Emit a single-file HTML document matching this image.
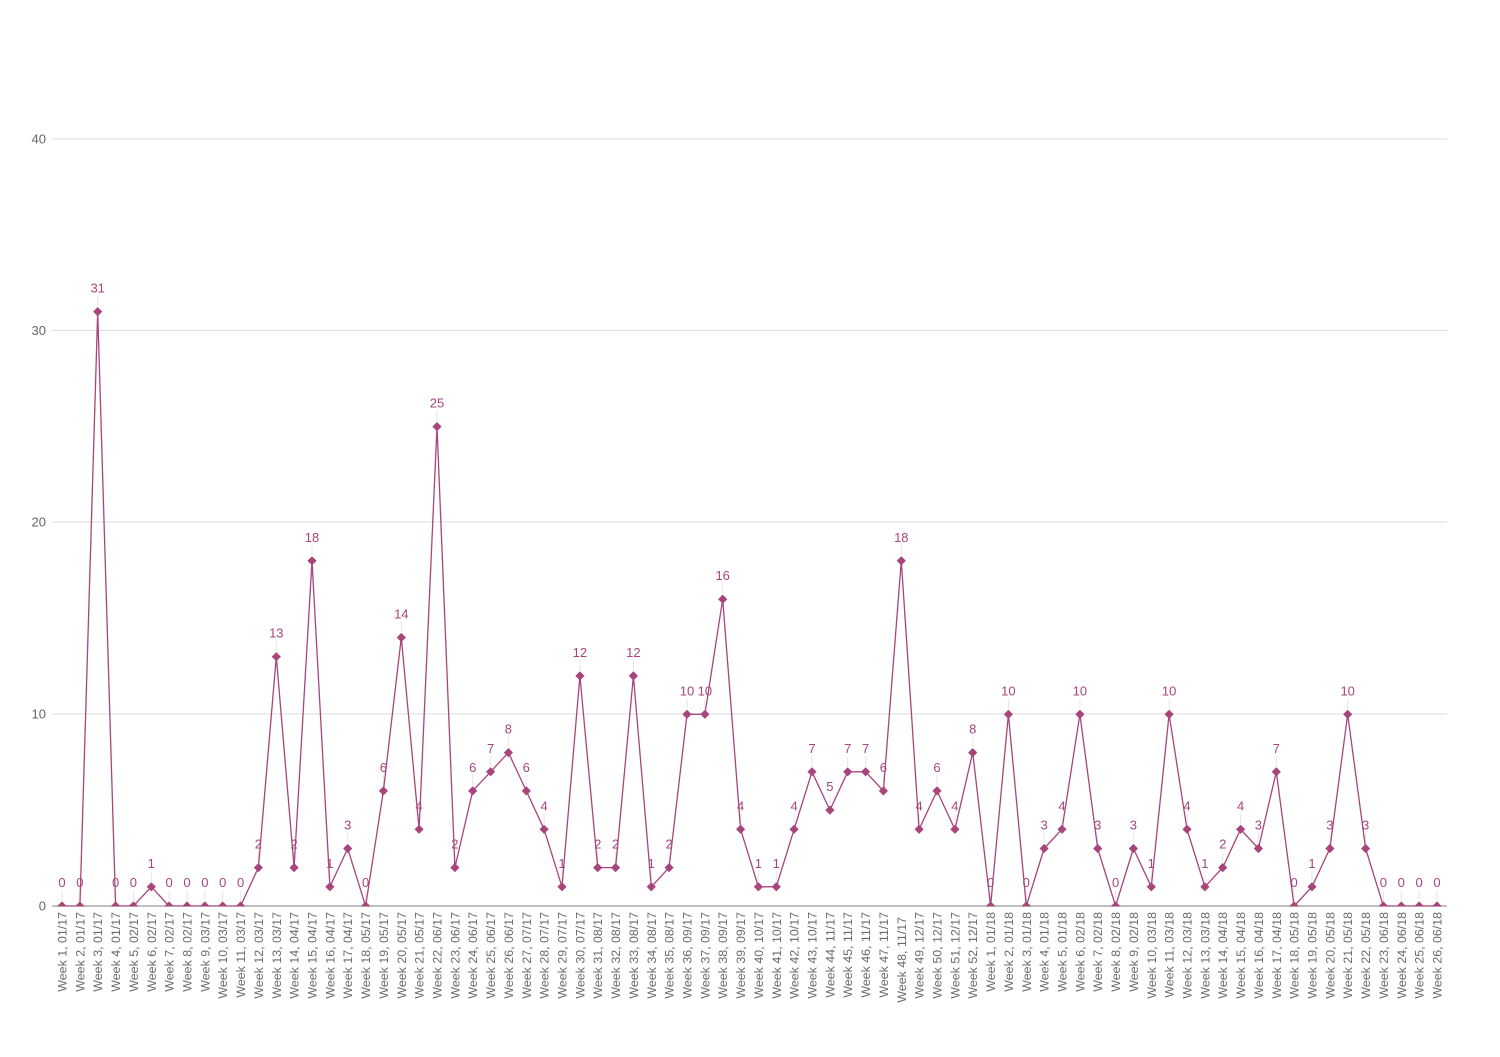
<!DOCTYPE html>
<html><head><meta charset="utf-8"><style>
html,body{margin:0;padding:0;background:#fff;}
svg{display:block;}
.yl{font-family:"Liberation Sans",sans-serif;font-size:13px;fill:#666;text-anchor:end;}
.xl{font-family:"Liberation Sans",sans-serif;font-size:12.4px;fill:#6a6a6a;text-anchor:end;}
.dl{font-family:"Liberation Sans",sans-serif;font-size:13px;fill:#a8457c;text-anchor:middle;}
.ld{stroke:#e6e6e6;stroke-width:1;}
</style></head><body>
<svg width="1500" height="1057" viewBox="0 0 1500 1057" xmlns="http://www.w3.org/2000/svg">
<defs>
<marker id="dm" markerUnits="userSpaceOnUse" markerWidth="12" markerHeight="12" refX="6" refY="6" orient="0" overflow="visible">
<path d="M6 1.4 L10.6 6 L6 10.6 L1.4 6 Z" fill="#a8457c"/>
</marker>
<clipPath id="cp"><rect x="40" y="100" width="1420" height="806.5"/></clipPath>
</defs>
<g stroke="#dcdcdc" stroke-width="1">
<line x1="52" y1="139" x2="1447" y2="139"/>
<line x1="52" y1="330.5" x2="1447" y2="330.5"/>
<line x1="52" y1="522" x2="1447" y2="522"/>
<line x1="52" y1="714" x2="1447" y2="714"/>
</g>
<line x1="52" y1="906" x2="1447" y2="906" stroke="#9a9a9a" stroke-width="1.3"/>
<text class="yl" x="46" y="143.5">40</text>
<text class="yl" x="46" y="335">30</text>
<text class="yl" x="46" y="526.5">20</text>
<text class="yl" x="46" y="718.5">10</text>
<text class="yl" x="46" y="910.5">0</text>

<g class="ld">
<line x1="62" y1="891" x2="62" y2="901"/><line x1="79.9" y1="891" x2="79.9" y2="901"/><line x1="97.7" y1="296" x2="97.7" y2="306"/><line x1="115.6" y1="891" x2="115.6" y2="901"/><line x1="133.4" y1="891" x2="133.4" y2="901"/><line x1="151.3" y1="872" x2="151.3" y2="882"/><line x1="169.1" y1="891" x2="169.1" y2="901"/><line x1="187" y1="891" x2="187" y2="901"/><line x1="204.9" y1="891" x2="204.9" y2="901"/><line x1="222.7" y1="891" x2="222.7" y2="901"/><line x1="240.6" y1="891" x2="240.6" y2="901"/><line x1="258.4" y1="852" x2="258.4" y2="862"/><line x1="276.3" y1="641" x2="276.3" y2="651"/><line x1="294.1" y1="852" x2="294.1" y2="862"/><line x1="312" y1="545" x2="312" y2="555"/><line x1="329.9" y1="871" x2="329.9" y2="881"/><line x1="347.7" y1="833" x2="347.7" y2="843"/><line x1="365.6" y1="891" x2="365.6" y2="901"/><line x1="383.4" y1="775" x2="383.4" y2="785"/><line x1="401.3" y1="622" x2="401.3" y2="632"/><line x1="419.1" y1="814" x2="419.1" y2="824"/><line x1="437" y1="411" x2="437" y2="421"/><line x1="454.9" y1="852" x2="454.9" y2="862"/><line x1="472.7" y1="775" x2="472.7" y2="785"/><line x1="490.6" y1="756" x2="490.6" y2="766"/><line x1="508.4" y1="737" x2="508.4" y2="747"/><line x1="526.3" y1="775" x2="526.3" y2="785"/><line x1="544.1" y1="814" x2="544.1" y2="824"/><line x1="562" y1="871" x2="562" y2="881"/><line x1="579.9" y1="660" x2="579.9" y2="670"/><line x1="597.7" y1="852" x2="597.7" y2="862"/><line x1="615.6" y1="852" x2="615.6" y2="862"/><line x1="633.4" y1="660" x2="633.4" y2="670"/><line x1="651.3" y1="871" x2="651.3" y2="881"/><line x1="669.1" y1="852" x2="669.1" y2="862"/><line x1="687" y1="699" x2="687" y2="709"/><line x1="704.9" y1="699" x2="704.9" y2="709"/><line x1="722.7" y1="584" x2="722.7" y2="594"/><line x1="740.6" y1="814" x2="740.6" y2="824"/><line x1="758.4" y1="871" x2="758.4" y2="881"/><line x1="776.3" y1="871" x2="776.3" y2="881"/><line x1="794.1" y1="814" x2="794.1" y2="824"/><line x1="812" y1="756" x2="812" y2="766"/><line x1="829.9" y1="794" x2="829.9" y2="804"/><line x1="847.7" y1="756" x2="847.7" y2="766"/><line x1="865.6" y1="756" x2="865.6" y2="766"/><line x1="883.4" y1="775" x2="883.4" y2="785"/><line x1="901.3" y1="545" x2="901.3" y2="555"/><line x1="919.1" y1="814" x2="919.1" y2="824"/><line x1="937" y1="775" x2="937" y2="785"/><line x1="954.9" y1="814" x2="954.9" y2="824"/><line x1="972.7" y1="737" x2="972.7" y2="747"/><line x1="990.6" y1="891" x2="990.6" y2="901"/><line x1="1008.4" y1="699" x2="1008.4" y2="709"/><line x1="1026.3" y1="891" x2="1026.3" y2="901"/><line x1="1044.1" y1="833" x2="1044.1" y2="843"/><line x1="1062" y1="814" x2="1062" y2="824"/><line x1="1079.9" y1="699" x2="1079.9" y2="709"/><line x1="1097.7" y1="833" x2="1097.7" y2="843"/><line x1="1115.6" y1="891" x2="1115.6" y2="901"/><line x1="1133.4" y1="833" x2="1133.4" y2="843"/><line x1="1151.3" y1="871" x2="1151.3" y2="881"/><line x1="1169.1" y1="699" x2="1169.1" y2="709"/><line x1="1187" y1="814" x2="1187" y2="824"/><line x1="1204.9" y1="871" x2="1204.9" y2="881"/><line x1="1222.7" y1="852" x2="1222.7" y2="862"/><line x1="1240.6" y1="814" x2="1240.6" y2="824"/><line x1="1258.4" y1="833" x2="1258.4" y2="843"/><line x1="1276.3" y1="756" x2="1276.3" y2="766"/><line x1="1294.1" y1="891" x2="1294.1" y2="901"/><line x1="1312" y1="871" x2="1312" y2="881"/><line x1="1329.9" y1="833" x2="1329.9" y2="843"/><line x1="1347.7" y1="699" x2="1347.7" y2="709"/><line x1="1365.6" y1="833" x2="1365.6" y2="843"/><line x1="1383.4" y1="891" x2="1383.4" y2="901"/><line x1="1401.3" y1="891" x2="1401.3" y2="901"/><line x1="1419.1" y1="891" x2="1419.1" y2="901"/><line x1="1437" y1="891" x2="1437" y2="901"/>
</g>

<g clip-path="url(#cp)">
<polyline fill="none" stroke="#a8457c" stroke-width="1.3" stroke-linejoin="round" marker-start="url(#dm)" marker-mid="url(#dm)" marker-end="url(#dm)" points="62,906 79.9,906 97.7,311.6 115.6,906 133.4,906 151.3,886.8 169.1,906 187,906 204.9,906 222.7,906 240.6,906 258.4,867.6 276.3,656.7 294.1,867.6 312,560.8 329.9,886.8 347.7,848.5 365.6,906 383.4,790.9 401.3,637.5 419.1,829.3 437,426.6 454.9,867.6 472.7,790.9 490.6,771.8 508.4,752.6 526.3,790.9 544.1,829.3 562,886.8 579.9,675.9 597.7,867.6 615.6,867.6 633.4,675.9 651.3,886.8 669.1,867.6 687,714.3 704.9,714.3 722.7,599.2 740.6,829.3 758.4,886.8 776.3,886.8 794.1,829.3 812,771.8 829.9,810.1 847.7,771.8 865.6,771.8 883.4,790.9 901.3,560.8 919.1,829.3 937,790.9 954.9,829.3 972.7,752.6 990.6,906 1008.4,714.3 1026.3,906 1044.1,848.5 1062,829.3 1079.9,714.3 1097.7,848.5 1115.6,906 1133.4,848.5 1151.3,886.8 1169.1,714.3 1187,829.3 1204.9,886.8 1222.7,867.6 1240.6,829.3 1258.4,848.5 1276.3,771.8 1294.1,906 1312,886.8 1329.9,848.5 1347.7,714.3 1365.6,848.5 1383.4,906 1401.3,906 1419.1,906 1437,906"/>
</g>

<g class="dl">
<text x="62" y="887">0</text><text x="79.9" y="887">0</text><text x="97.7" y="292.6">31</text><text x="115.6" y="887">0</text><text x="133.4" y="887">0</text><text x="151.3" y="867.8">1</text><text x="169.1" y="887">0</text><text x="187" y="887">0</text><text x="204.9" y="887">0</text><text x="222.7" y="887">0</text><text x="240.6" y="887">0</text><text x="258.4" y="848.6">2</text><text x="276.3" y="637.7">13</text><text x="294.1" y="848.6">2</text><text x="312" y="541.8">18</text><text x="329.9" y="867.8">1</text><text x="347.7" y="829.5">3</text><text x="365.6" y="887">0</text><text x="383.4" y="771.9">6</text><text x="401.3" y="618.5">14</text><text x="419.1" y="810.3">4</text><text x="437" y="407.6">25</text><text x="454.9" y="848.6">2</text><text x="472.7" y="771.9">6</text><text x="490.6" y="752.8">7</text><text x="508.4" y="733.6">8</text><text x="526.3" y="771.9">6</text><text x="544.1" y="810.3">4</text><text x="562" y="867.8">1</text><text x="579.9" y="656.9">12</text><text x="597.7" y="848.6">2</text><text x="615.6" y="848.6">2</text><text x="633.4" y="656.9">12</text><text x="651.3" y="867.8">1</text><text x="669.1" y="848.6">2</text><text x="687" y="695.3">10</text><text x="704.9" y="695.3">10</text><text x="722.7" y="580.2">16</text><text x="740.6" y="810.3">4</text><text x="758.4" y="867.8">1</text><text x="776.3" y="867.8">1</text><text x="794.1" y="810.3">4</text><text x="812" y="752.8">7</text><text x="829.9" y="791.1">5</text><text x="847.7" y="752.8">7</text><text x="865.6" y="752.8">7</text><text x="883.4" y="771.9">6</text><text x="901.3" y="541.8">18</text><text x="919.1" y="810.3">4</text><text x="937" y="771.9">6</text><text x="954.9" y="810.3">4</text><text x="972.7" y="733.6">8</text><text x="990.6" y="887">0</text><text x="1008.4" y="695.3">10</text><text x="1026.3" y="887">0</text><text x="1044.1" y="829.5">3</text><text x="1062" y="810.3">4</text><text x="1079.9" y="695.3">10</text><text x="1097.7" y="829.5">3</text><text x="1115.6" y="887">0</text><text x="1133.4" y="829.5">3</text><text x="1151.3" y="867.8">1</text><text x="1169.1" y="695.3">10</text><text x="1187" y="810.3">4</text><text x="1204.9" y="867.8">1</text><text x="1222.7" y="848.6">2</text><text x="1240.6" y="810.3">4</text><text x="1258.4" y="829.5">3</text><text x="1276.3" y="752.8">7</text><text x="1294.1" y="887">0</text><text x="1312" y="867.8">1</text><text x="1329.9" y="829.5">3</text><text x="1347.7" y="695.3">10</text><text x="1365.6" y="829.5">3</text><text x="1383.4" y="887">0</text><text x="1401.3" y="887">0</text><text x="1419.1" y="887">0</text><text x="1437" y="887">0</text>
</g>

<g class="xl">
<text transform="translate(66.5,912) rotate(-90)">Week 1, 01/17</text>
<text transform="translate(84.4,912) rotate(-90)">Week 2, 01/17</text>
<text transform="translate(102.2,912) rotate(-90)">Week 3, 01/17</text>
<text transform="translate(120.1,912) rotate(-90)">Week 4, 01/17</text>
<text transform="translate(137.9,912) rotate(-90)">Week 5, 02/17</text>
<text transform="translate(155.8,912) rotate(-90)">Week 6, 02/17</text>
<text transform="translate(173.6,912) rotate(-90)">Week 7, 02/17</text>
<text transform="translate(191.5,912) rotate(-90)">Week 8, 02/17</text>
<text transform="translate(209.4,912) rotate(-90)">Week 9, 03/17</text>
<text transform="translate(227.2,912) rotate(-90)">Week 10, 03/17</text>
<text transform="translate(245.1,912) rotate(-90)">Week 11, 03/17</text>
<text transform="translate(262.9,912) rotate(-90)">Week 12, 03/17</text>
<text transform="translate(280.8,912) rotate(-90)">Week 13, 03/17</text>
<text transform="translate(298.6,912) rotate(-90)">Week 14, 04/17</text>
<text transform="translate(316.5,912) rotate(-90)">Week 15, 04/17</text>
<text transform="translate(334.4,912) rotate(-90)">Week 16, 04/17</text>
<text transform="translate(352.2,912) rotate(-90)">Week 17, 04/17</text>
<text transform="translate(370.1,912) rotate(-90)">Week 18, 05/17</text>
<text transform="translate(387.9,912) rotate(-90)">Week 19, 05/17</text>
<text transform="translate(405.8,912) rotate(-90)">Week 20, 05/17</text>
<text transform="translate(423.6,912) rotate(-90)">Week 21, 05/17</text>
<text transform="translate(441.5,912) rotate(-90)">Week 22, 06/17</text>
<text transform="translate(459.4,912) rotate(-90)">Week 23, 06/17</text>
<text transform="translate(477.2,912) rotate(-90)">Week 24, 06/17</text>
<text transform="translate(495.1,912) rotate(-90)">Week 25, 06/17</text>
<text transform="translate(512.9,912) rotate(-90)">Week 26, 06/17</text>
<text transform="translate(530.8,912) rotate(-90)">Week 27, 07/17</text>
<text transform="translate(548.6,912) rotate(-90)">Week 28, 07/17</text>
<text transform="translate(566.5,912) rotate(-90)">Week 29, 07/17</text>
<text transform="translate(584.4,912) rotate(-90)">Week 30, 07/17</text>
<text transform="translate(602.2,912) rotate(-90)">Week 31, 08/17</text>
<text transform="translate(620.1,912) rotate(-90)">Week 32, 08/17</text>
<text transform="translate(637.9,912) rotate(-90)">Week 33, 08/17</text>
<text transform="translate(655.8,912) rotate(-90)">Week 34, 08/17</text>
<text transform="translate(673.6,912) rotate(-90)">Week 35, 08/17</text>
<text transform="translate(691.5,912) rotate(-90)">Week 36, 09/17</text>
<text transform="translate(709.4,912) rotate(-90)">Week 37, 09/17</text>
<text transform="translate(727.2,912) rotate(-90)">Week 38, 09/17</text>
<text transform="translate(745.1,912) rotate(-90)">Week 39, 09/17</text>
<text transform="translate(762.9,912) rotate(-90)">Week 40, 10/17</text>
<text transform="translate(780.8,912) rotate(-90)">Week 41, 10/17</text>
<text transform="translate(798.6,912) rotate(-90)">Week 42, 10/17</text>
<text transform="translate(816.5,912) rotate(-90)">Week 43, 10/17</text>
<text transform="translate(834.4,912) rotate(-90)">Week 44, 11/17</text>
<text transform="translate(852.2,912) rotate(-90)">Week 45, 11/17</text>
<text transform="translate(870.1,912) rotate(-90)">Week 46, 11/17</text>
<text transform="translate(887.9,912) rotate(-90)">Week 47, 11/17</text>
<text transform="translate(905.8,917) rotate(-90)">Week 48, 11/17</text>
<text transform="translate(923.6,912) rotate(-90)">Week 49, 12/17</text>
<text transform="translate(941.5,912) rotate(-90)">Week 50, 12/17</text>
<text transform="translate(959.4,912) rotate(-90)">Week 51, 12/17</text>
<text transform="translate(977.2,912) rotate(-90)">Week 52, 12/17</text>
<text transform="translate(995.1,912) rotate(-90)">Week 1, 01/18</text>
<text transform="translate(1012.9,912) rotate(-90)">Week 2, 01/18</text>
<text transform="translate(1030.8,912) rotate(-90)">Week 3, 01/18</text>
<text transform="translate(1048.6,912) rotate(-90)">Week 4, 01/18</text>
<text transform="translate(1066.5,912) rotate(-90)">Week 5, 01/18</text>
<text transform="translate(1084.4,912) rotate(-90)">Week 6, 02/18</text>
<text transform="translate(1102.2,912) rotate(-90)">Week 7, 02/18</text>
<text transform="translate(1120.1,912) rotate(-90)">Week 8, 02/18</text>
<text transform="translate(1137.9,912) rotate(-90)">Week 9, 02/18</text>
<text transform="translate(1155.8,912) rotate(-90)">Week 10, 03/18</text>
<text transform="translate(1173.6,912) rotate(-90)">Week 11, 03/18</text>
<text transform="translate(1191.5,912) rotate(-90)">Week 12, 03/18</text>
<text transform="translate(1209.4,912) rotate(-90)">Week 13, 03/18</text>
<text transform="translate(1227.2,912) rotate(-90)">Week 14, 04/18</text>
<text transform="translate(1245.1,912) rotate(-90)">Week 15, 04/18</text>
<text transform="translate(1262.9,912) rotate(-90)">Week 16, 04/18</text>
<text transform="translate(1280.8,912) rotate(-90)">Week 17, 04/18</text>
<text transform="translate(1298.6,912) rotate(-90)">Week 18, 05/18</text>
<text transform="translate(1316.5,912) rotate(-90)">Week 19, 05/18</text>
<text transform="translate(1334.4,912) rotate(-90)">Week 20, 05/18</text>
<text transform="translate(1352.2,912) rotate(-90)">Week 21, 05/18</text>
<text transform="translate(1370.1,912) rotate(-90)">Week 22, 05/18</text>
<text transform="translate(1387.9,912) rotate(-90)">Week 23, 06/18</text>
<text transform="translate(1405.8,912) rotate(-90)">Week 24, 06/18</text>
<text transform="translate(1423.6,912) rotate(-90)">Week 25, 06/18</text>
<text transform="translate(1441.5,912) rotate(-90)">Week 26, 06/18</text>
</g>
</svg>
</body></html>
